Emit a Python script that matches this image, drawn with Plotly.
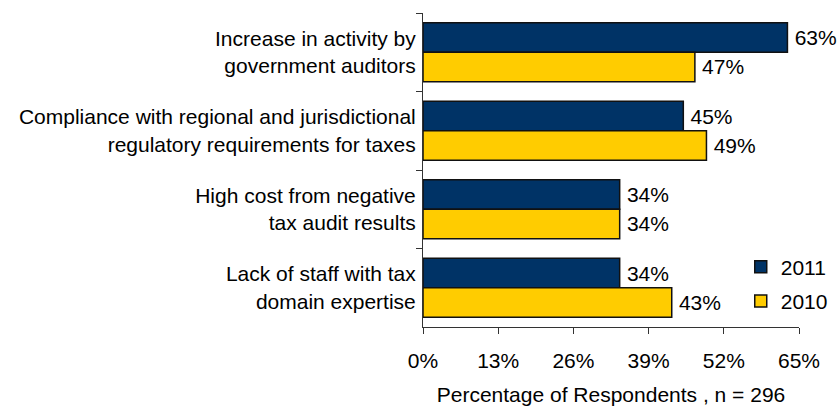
import plotly.graph_objects as go

categories = [
    "Increase in activity by<br>government auditors",
    "Compliance with regional and jurisdictional<br>regulatory requirements for taxes",
    "High cost from negative<br>tax audit results",
    "Lack of staff with tax<br>domain expertise",
]
values_2011 = [63, 45, 34, 34]
values_2010 = [47, 49, 34, 43]
x_ticks = [0, 13, 26, 39, 52, 65]

NAVY = "#003366"
GOLD = "#FFCC00"
FONT = "Liberation Sans, Arial, sans-serif"
FS = 21

fig = go.Figure()
for name, vals, color in [("2011", values_2011, NAVY), ("2010", values_2010, GOLD)]:
    fig.add_trace(go.Bar(
        y=categories, x=vals, name=name, orientation="h",
        marker=dict(color=color, line=dict(color="#111111", width=1.5)),
        # thin space keeps the value label a little clear of the bar end
        text=[f"\u2009{v}%" for v in vals], textposition="outside",
        textfont=dict(size=FS, color="black", family=FONT),
        cliponaxis=False, legendgroup=name,
    ))

fig.update_layout(
    width=837, height=411,
    margin=dict(l=423, r=38, t=13, b=84, autoexpand=False),
    paper_bgcolor="white", plot_bgcolor="white",
    barmode="group", bargap=0.25, bargroupgap=0,
    font=dict(family=FONT, size=FS, color="black"),
    showlegend=True,
    legend=dict(xref="container", yref="container", x=0.885, y=0.40,
                xanchor="left", yanchor="top",
                font=dict(size=FS), tracegroupgap=4, bgcolor="rgba(0,0,0,0)"),
    xaxis=dict(
        range=[0, 65], tickvals=x_ticks, ticktext=[f"{t}%" for t in x_ticks],
        showgrid=False, zeroline=False, showline=True, linecolor="#333333",
        ticks="outside", ticklen=6, tickcolor="#333333", ticklabelstandoff=9,
        automargin=False,
        tickfont=dict(size=FS), title=dict(text="Percentage of Respondents , n = 296",
                                           font=dict(size=FS), standoff=16),
    ),
    yaxis=dict(
        autorange="reversed", showgrid=False, zeroline=False, showline=True,
        linecolor="#333333", ticks="outside", ticklen=6, tickcolor="#333333",
        tickson="boundaries", tickfont=dict(size=FS), ticklabelstandoff=2,
        automargin=False,
    ),
)

fig.write_html("out.html")
